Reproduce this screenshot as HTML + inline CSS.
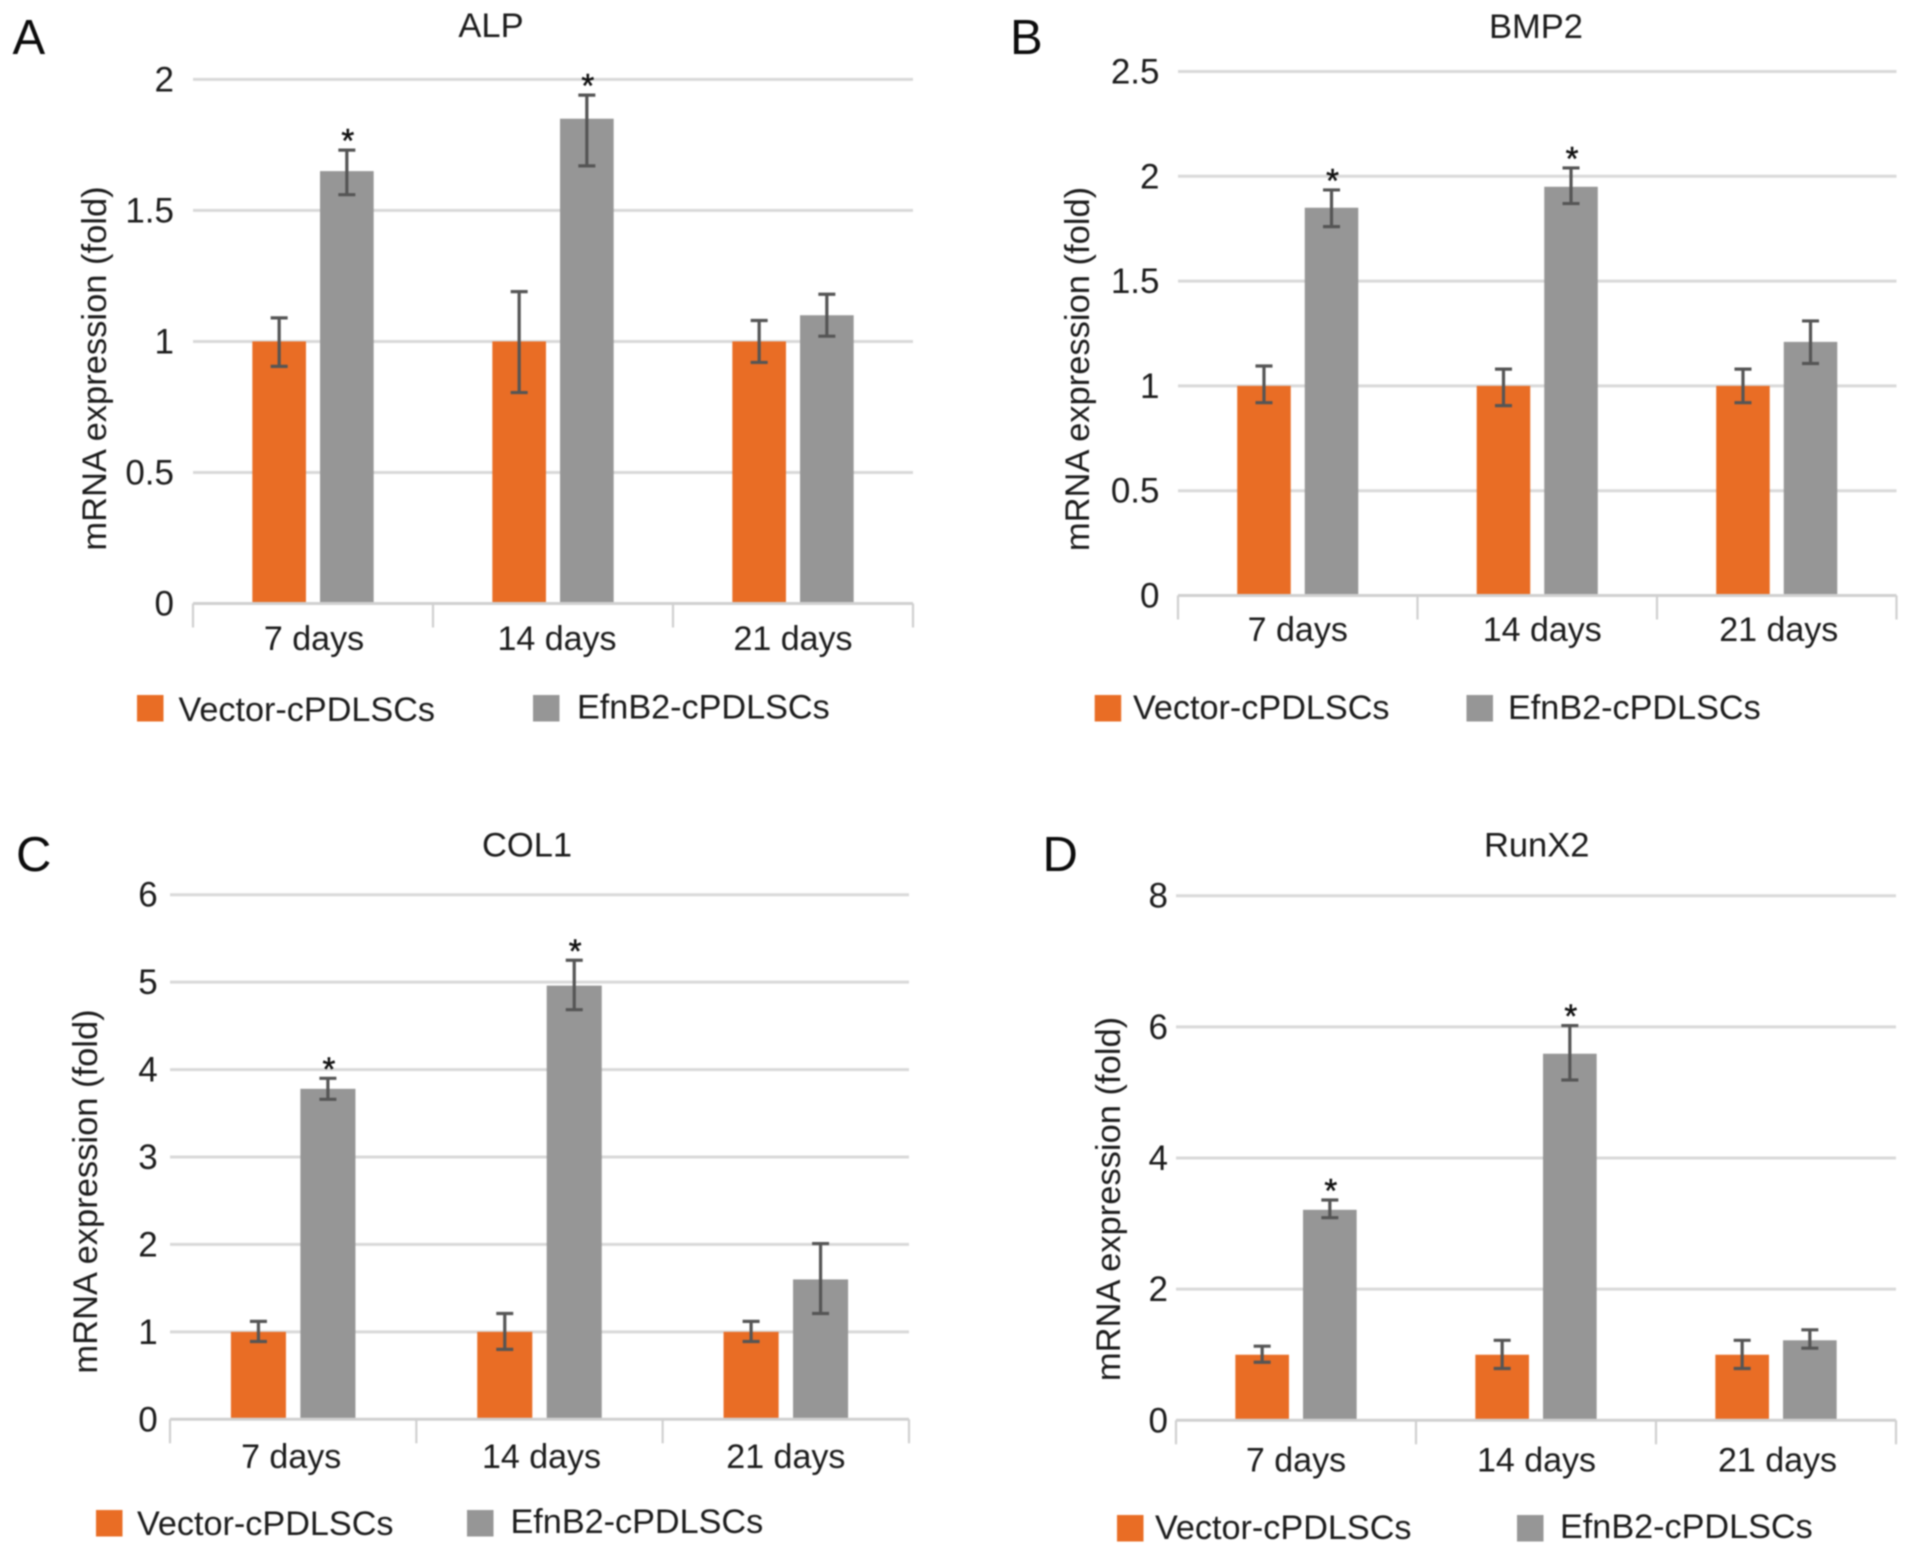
<!DOCTYPE html>
<html lang="en">
<head>
<meta charset="utf-8">
<title>mRNA expression of ALP, BMP2, COL1 and RunX2</title>
<style>
html,body{margin:0;padding:0;background:#fff;}
body{width:1913px;height:1554px;overflow:hidden;}
svg{display:block;filter:blur(0.7px);}
text{font-family:"Liberation Sans",Arial,sans-serif;fill:#1c1c1c;}
.panel-letter{font-size:49px;fill:#0c0c0c;}
.title{font-size:34.5px;text-anchor:middle;}
.ytitle{font-size:34.5px;text-anchor:middle;}
.tick{font-size:35px;text-anchor:end;}
.cat{font-size:34px;text-anchor:middle;}
.leg{font-size:34.2px;}
.star{font-size:33px;text-anchor:middle;fill:#111;stroke:#111;stroke-width:0.5px;}
</style>
</head>
<body>
<svg id="figure" xmlns="http://www.w3.org/2000/svg" width="1913" height="1554" viewBox="0 0 1913 1554">
  <rect x="0" y="0" width="1913" height="1554" fill="#fff"/>

  <g id="panel-a">
    <text class="panel-letter" x="12.5" y="54">A</text>
    <text class="title" x="491" y="37">ALP</text>
    <text class="ytitle" transform="translate(106 368.5) rotate(-90)">mRNA expression (fold)</text>
    <g id="plot-a"></g>
    <rect x="137" y="695" width="26.5" height="26.5" fill="#e96d25"/>
    <text class="leg" x="178.5" y="721">Vector-cPDLSCs</text>
    <rect x="533" y="695" width="26.5" height="26.5" fill="#969696"/>
    <text class="leg" x="577" y="718.5">EfnB2-cPDLSCs</text>
  </g>

  <g id="panel-b">
    <text class="panel-letter" x="1010" y="54">B</text>
    <text class="title" x="1536" y="38">BMP2</text>
    <text class="ytitle" transform="translate(1089 369) rotate(-90)">mRNA expression (fold)</text>
    <g id="plot-b"></g>
    <rect x="1094.7" y="695" width="26.5" height="26.5" fill="#e96d25"/>
    <text class="leg" x="1133" y="719">Vector-cPDLSCs</text>
    <rect x="1466.5" y="695" width="26.5" height="26.5" fill="#969696"/>
    <text class="leg" x="1508" y="719">EfnB2-cPDLSCs</text>
  </g>

  <g id="panel-c">
    <text class="panel-letter" x="16" y="871">C</text>
    <text class="title" x="527" y="856.5">COL1</text>
    <text class="ytitle" transform="translate(97 1191.5) rotate(-90)">mRNA expression (fold)</text>
    <g id="plot-c"></g>
    <rect x="96" y="1510" width="26.5" height="26.5" fill="#e96d25"/>
    <text class="leg" x="137" y="1535">Vector-cPDLSCs</text>
    <rect x="467" y="1510" width="26.5" height="26.5" fill="#969696"/>
    <text class="leg" x="510.5" y="1533">EfnB2-cPDLSCs</text>
  </g>

  <g id="panel-d">
    <text class="panel-letter" x="1042.5" y="871">D</text>
    <text class="title" x="1536.7" y="856.5">RunX2</text>
    <text class="ytitle" transform="translate(1120 1199) rotate(-90)">mRNA expression (fold)</text>
    <g id="plot-d"></g>
    <rect x="1117" y="1515" width="26.5" height="26.5" fill="#e96d25"/>
    <text class="leg" x="1155" y="1539">Vector-cPDLSCs</text>
    <rect x="1517" y="1515" width="26.5" height="26.5" fill="#969696"/>
    <text class="leg" x="1560" y="1538">EfnB2-cPDLSCs</text>
  </g>
</svg>

<script>
// Shared categories
const categories = ['7 days', '14 days', '21 days'];

// ALP
const alpTicks = ['0', '0.5', '1', '1.5', '2'];
const alpVector = [1, 1, 1];
const alpVectorHigh = [1.09, 1.19, 1.08];
const alpVectorLow = [0.905, 0.805, 0.92];
const alpEfnb2 = [1.65, 1.85, 1.10];
const alpEfnb2High = [1.73, 1.94, 1.18];
const alpEfnb2Low = [1.56, 1.67, 1.02];
const alpStars = ['*', '*', ''];

// BMP2
const bmp2Ticks = ['0', '0.5', '1', '1.5', '2', '2.5'];
const bmp2Vector = [1, 1, 1];
const bmp2VectorHigh = [1.095, 1.08, 1.08];
const bmp2VectorLow = [0.92, 0.906, 0.92];
const bmp2Efnb2 = [1.85, 1.95, 1.21];
const bmp2Efnb2High = [1.935, 2.04, 1.31];
const bmp2Efnb2Low = [1.76, 1.87, 1.107];
const bmp2Stars = ['*', '*', ''];

// COL1
const col1Ticks = ['0', '1', '2', '3', '4', '5', '6'];
const col1Vector = [1, 1, 1];
const col1VectorHigh = [1.12, 1.21, 1.12];
const col1VectorLow = [0.89, 0.80, 0.89];
const col1Efnb2 = [3.78, 4.96, 1.6];
const col1Efnb2High = [3.90, 5.25, 2.01];
const col1Efnb2Low = [3.66, 4.685, 1.21];
const col1Stars = ['*', '*', ''];

// RunX2
const runx2Ticks = ['0', '2', '4', '6', '8'];
const runx2Vector = [1, 1, 1];
const runx2VectorHigh = [1.13, 1.22, 1.22];
const runx2VectorLow = [0.885, 0.79, 0.79];
const runx2Efnb2 = [3.21, 5.59, 1.22];
const runx2Efnb2High = [3.36, 6.02, 1.38];
const runx2Efnb2Low = [3.09, 5.19, 1.10];
const runx2Stars = ['*', '*', ''];

const SVG_NS = 'http://www.w3.org/2000/svg';
const ORANGE = '#e96d25';
const GRAY = '#969696';
const GRID = '#d9d9d9';
const ERR = '#555555';

function shape(parent, tag, attrs) {
  const el = document.createElementNS(SVG_NS, tag);
  Object.keys(attrs).forEach(function (k) { el.setAttribute(k, attrs[k]); });
  parent.appendChild(el);
  return el;
}

function drawPanel(cfg) {
  const root = document.getElementById(cfg.target);
  const tickValues = cfg.ticks.map(Number);
  const yMax = Math.max.apply(null, tickValues);
  const yScale = function (v) { return cfg.y0 - (v / yMax) * (cfg.y0 - cfg.yTop); };
  const catW = (cfg.x1 - cfg.x0) / cfg.categories.length;
  const xCenter = function (i) { return cfg.x0 + catW * (i + 0.5); };
  const barW = catW * 0.2235;
  const gap = catW * 0.0585;

  cfg.ticks.forEach(function (label, i) {
    const y = yScale(tickValues[i]);
    if (tickValues[i] !== 0) {
      const grid = shape(root, 'line', { x1: cfg.x0, x2: cfg.x1, y1: y, y2: y, stroke: GRID, 'stroke-width': 3 });
      
      
    }
    const t = shape(root, 'text', { x: cfg.tickX, y: y + 12, class: 'tick' });
    t.textContent = label;
    
    
  });

  const series = [
    { values: cfg.vector, high: cfg.vectorHigh, low: cfg.vectorLow, fill: ORANGE, name: 'vector', dir: -1 },
    { values: cfg.efnb2, high: cfg.efnb2High, low: cfg.efnb2Low, fill: GRAY, name: 'efnb2', dir: 1 }
  ];

  series.forEach(function (s) {
    s.values.forEach(function (v, i) {
      const cx = xCenter(i) + s.dir * (gap + barW) / 2;
      const top = yScale(v);
      const bar = shape(root, 'rect', { x: cx - barW / 2, y: top, width: barW, height: cfg.y0 - top, fill: s.fill });
      
      
    });
  });

  const axis = shape(root, 'line', { x1: cfg.x0, x2: cfg.x1, y1: cfg.y0, y2: cfg.y0, stroke: '#d0d0d0', 'stroke-width': 3 });
  
  

  for (let i = 0; i <= cfg.categories.length; i++) {
    const x = cfg.x0 + catW * i;
    const tk = shape(root, 'line', { x1: x, x2: x, y1: cfg.y0, y2: cfg.y0 + 24, stroke: '#d0d0d0', 'stroke-width': 2.2 });
    
    
  }

  cfg.categories.forEach(function (c, i) {
    const t = shape(root, 'text', { x: xCenter(i) + cfg.labelDx[i], y: cfg.y0 + cfg.labelDy, class: 'cat' });
    t.textContent = c;
    
    
  });

  series.forEach(function (s) {
    s.values.forEach(function (v, i) {
      const cx = xCenter(i) + s.dir * (gap + barW) / 2;
      const yh = yScale(s.high[i]);
      const yl = yScale(s.low[i]);
      const g = shape(root, 'g', { stroke: ERR, 'stroke-width': 3.2, fill: 'none' });
      
      
      shape(g, 'line', { x1: cx, x2: cx, y1: yh, y2: yl });
      shape(g, 'line', { x1: cx - 8.5, x2: cx + 8.5, y1: yh, y2: yh });
      shape(g, 'line', { x1: cx - 8.5, x2: cx + 8.5, y1: yl, y2: yl });
    });
  });

  cfg.stars.forEach(function (mark, i) {
    if (!mark) return;
    const cx = xCenter(i) + (gap + barW) / 2 + 1;
    const yCap = yScale(cfg.efnb2High[i]);
    const t = shape(root, 'text', { x: cx, y: yCap + 2, class: 'star' });
    t.textContent = mark;
    
    
  });
}

drawPanel({
  target: 'plot-a', categories: categories, ticks: alpTicks,
  vector: alpVector, vectorHigh: alpVectorHigh, vectorLow: alpVectorLow,
  efnb2: alpEfnb2, efnb2High: alpEfnb2High, efnb2Low: alpEfnb2Low, stars: alpStars,
  x0: 193, x1: 913, y0: 603.5, yTop: 79.4, tickX: 174, labelDy: 46.5, labelDx: [1, 4, 0]
});
drawPanel({
  target: 'plot-b', categories: categories, ticks: bmp2Ticks,
  vector: bmp2Vector, vectorHigh: bmp2VectorHigh, vectorLow: bmp2VectorLow,
  efnb2: bmp2Efnb2, efnb2High: bmp2Efnb2High, efnb2Low: bmp2Efnb2Low, stars: bmp2Stars,
  x0: 1178, x1: 1896.5, y0: 595.5, yTop: 71.5, tickX: 1159.5, labelDy: 45.5, labelDx: [0, 5, 2]
});
drawPanel({
  target: 'plot-c', categories: categories, ticks: col1Ticks,
  vector: col1Vector, vectorHigh: col1VectorHigh, vectorLow: col1VectorLow,
  efnb2: col1Efnb2, efnb2High: col1Efnb2High, efnb2Low: col1Efnb2Low, stars: col1Stars,
  x0: 170, x1: 909, y0: 1419.3, yTop: 894.7, tickX: 157.7, labelDy: 48.5, labelDx: [-2, 2, 0]
});
drawPanel({
  target: 'plot-d', categories: categories, ticks: runx2Ticks,
  vector: runx2Vector, vectorHigh: runx2VectorHigh, vectorLow: runx2VectorLow,
  efnb2: runx2Efnb2, efnb2High: runx2Efnb2High, efnb2Low: runx2Efnb2Low, stars: runx2Stars,
  x0: 1176, x1: 1896, y0: 1420.3, yTop: 895.7, tickX: 1168, labelDy: 51, labelDx: [0, 0.5, 1.5]
});
</script>
</body>
</html>
